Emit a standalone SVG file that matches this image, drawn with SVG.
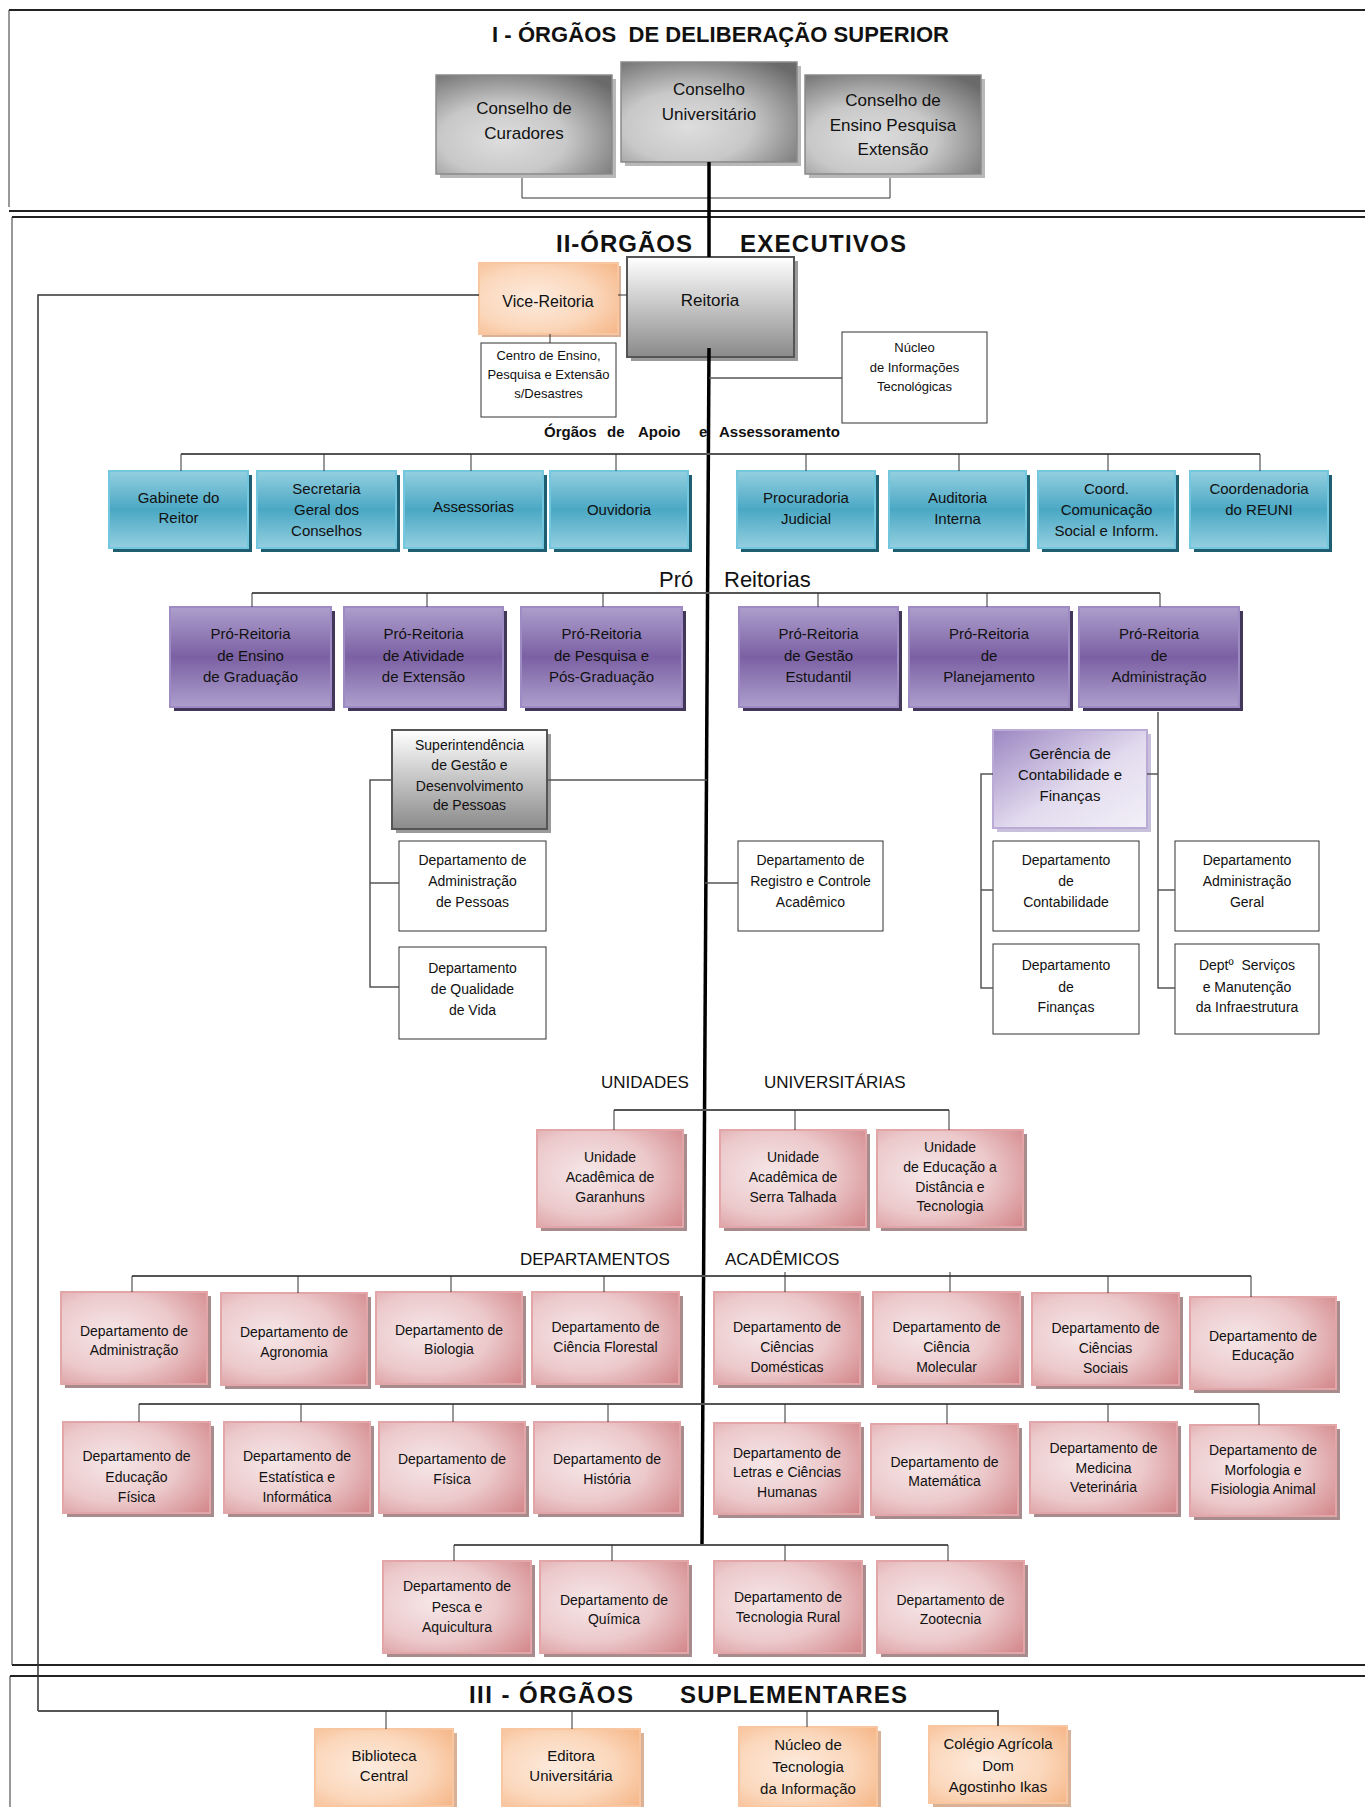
<svg xmlns="http://www.w3.org/2000/svg" width="1365" height="1807" viewBox="0 0 1365 1807">
<style>
text{font-family:"Liberation Sans",Arial,Helvetica,sans-serif;fill:#111;text-anchor:middle}
.t13{font-size:13px}.t14{font-size:14px}.t15{font-size:15px}.t16{font-size:16px}.t17{font-size:17px}
.h22{font-size:22px;font-weight:bold;text-anchor:start}
.h24{font-size:24px;font-weight:bold;text-anchor:start}
.h15b{font-size:15px;font-weight:bold;text-anchor:start}
.hr{text-anchor:start}
.frame{fill:none;stroke:#222;stroke-width:2}
.frameL{fill:none;stroke:#333;stroke-width:1}
.bus{fill:none;stroke:#555;stroke-width:2}
.ln{fill:none;stroke:#333;stroke-width:1}
.trunk{fill:none;stroke:#000;stroke-width:3.5}
.shGray{fill:#b8b8b8}.shBlue{fill:#1f5d71}.shPurp{fill:#433759}.shPink{fill:#a88b8d}.shOr{fill:#d9b196}.shRe{fill:#9a9a9a}.shLav{fill:#c9c0dc}
.bGray{fill:url(#gGray);stroke:#8a8a8a;stroke-width:1.5}
.bRe{fill:url(#gRe);stroke:#555;stroke-width:2}
.bBlue{fill:url(#gBlue);stroke:#72c6de;stroke-width:2}
.bPurp{fill:url(#gPurp);stroke:#9e8bc4;stroke-width:2}
.bPink{fill:url(#gPink);stroke:#e2a6a9;stroke-width:2}
.bOr{fill:url(#gOr);stroke:#f8c7a1;stroke-width:2}
.bLav{fill:url(#gLav);stroke:#b9abd6;stroke-width:2}
.bW{fill:#fff;stroke:#333;stroke-width:1}
</style>
<defs>
<radialGradient id="gGray" cx="0.38" cy="0.65" r="0.8">
<stop offset="0" stop-color="#dedede"/><stop offset="0.45" stop-color="#c8c8c8"/><stop offset="1" stop-color="#6a6a6a"/>
</radialGradient>
<linearGradient id="gRe" x1="0" y1="0" x2="0" y2="1">
<stop offset="0" stop-color="#ffffff"/><stop offset="1" stop-color="#8a8a8a"/>
</linearGradient>
<linearGradient id="gBlue" x1="0" y1="0" x2="0" y2="1">
<stop offset="0" stop-color="#94cfe0"/><stop offset="0.5" stop-color="#4aa8c4"/><stop offset="1" stop-color="#94cfe0"/>
</linearGradient>
<linearGradient id="gPurp" x1="0" y1="0" x2="0" y2="1">
<stop offset="0" stop-color="#ad9fcd"/><stop offset="0.5" stop-color="#7b60a3"/><stop offset="1" stop-color="#ad9fcd"/>
</linearGradient>
<radialGradient id="gPink" cx="0.35" cy="0.45" r="0.85">
<stop offset="0" stop-color="#f6e7e8"/><stop offset="0.5" stop-color="#ecc9cb"/><stop offset="1" stop-color="#d28589"/>
</radialGradient>
<radialGradient id="gOr" cx="0.4" cy="0.5" r="0.85">
<stop offset="0" stop-color="#fdebde"/><stop offset="0.5" stop-color="#fbd7bb"/><stop offset="1" stop-color="#f4ae7b"/>
</radialGradient>
<linearGradient id="gLav" x1="0" y1="0" x2="1" y2="1">
<stop offset="0" stop-color="#9c86c2"/><stop offset="0.55" stop-color="#e2dbee"/><stop offset="1" stop-color="#f3f0f8"/>
</linearGradient>
</defs>

<g id="frames">
<path class="frame" d="M9 10H1365M9 211H1365"/>
<path class="frameL" d="M9 10V207"/>
<path class="frame" d="M12 217H1365M12 1665H1365"/>
<path class="frameL" d="M12 217V1665"/>
<path class="frame" d="M10 1676H1365"/>
<path class="frameL" d="M10 1676V1807"/>
</g>

<g id="titles">
<text class="h22" x="492" y="42" textLength="457" xml:space="preserve">I - ÓRGÃOS  DE DELIBERAÇÃO SUPERIOR</text>
<text class="h24" x="556" y="252" textLength="136">II-ÓRGÃOS</text>
<text class="h24" x="740" y="252" textLength="166">EXECUTIVOS</text>
<text class="h15b" y="437"><tspan x="544">Órgãos</tspan><tspan x="607">de</tspan><tspan x="638">Apoio</tspan><tspan x="699">e</tspan><tspan x="719">Assessoramento</tspan></text>
<text class="hr" x="659" y="587" style="font-size:22px">Pró</text>
<text class="hr" x="724" y="587" style="font-size:22px">Reitorias</text>
<text class="hr t17" x="601" y="1088">UNIDADES</text>
<text class="hr t17" x="764" y="1088">UNIVERSITÁRIAS</text>
<text class="hr t17" x="520" y="1265">DEPARTAMENTOS</text>
<text class="hr t17" x="725" y="1265">ACADÊMICOS</text>
<text class="h24" x="469" y="1703" textLength="164" xml:space="preserve">III - ÓRGÃOS</text>
<text class="h24" x="680" y="1703" textLength="227">SUPLEMENTARES</text>
</g>

<!-- Section I -->
<g id="n-curadores"><rect class="shGray" x="440" y="79" width="176" height="99"/><rect class="bGray" x="436" y="75" width="176" height="99"/><text class="t17" x="524"><tspan x="524" y="114">Conselho de</tspan><tspan x="524" y="139">Curadores</tspan></text></g>
<g id="n-universitario"><rect class="shGray" x="625" y="66" width="176" height="100"/><rect class="bGray" x="621" y="62" width="176" height="100"/><text class="t17"><tspan x="709" y="95">Conselho</tspan><tspan x="709" y="120">Universitário</tspan></text></g>
<g id="n-cepe"><rect class="shGray" x="809" y="79" width="176" height="99"/><rect class="bGray" x="805" y="75" width="176" height="99"/><text class="t17"><tspan x="893" y="106">Conselho de</tspan><tspan x="893" y="131">Ensino Pesquisa</tspan><tspan x="893" y="155">Extensão</tspan></text></g>

<!-- Section II top -->
<g id="n-reitoria"><rect class="shRe" x="631" y="261" width="167" height="100"/><rect class="bRe" x="627" y="257" width="167" height="100"/><text class="t17" x="710" y="306">Reitoria</text></g>
<g id="n-vice"><rect class="shOr" x="482" y="266" width="139" height="71"/><rect class="bOr" x="479" y="263" width="139" height="71"/><text class="t16" x="548" y="307">Vice-Reitoria</text></g>
<g id="n-centro"><rect class="bW" x="481" y="343" width="135" height="74"/><text class="t13"><tspan x="548.5" y="360">Centro de Ensino,</tspan><tspan x="548.5" y="379">Pesquisa e Extensão</tspan><tspan x="548.5" y="398">s/Desastres</tspan></text></g>
<g id="n-nucleo-info"><rect class="bW" x="842" y="332" width="145" height="91"/><text class="t13"><tspan x="914.5" y="352">Núcleo</tspan><tspan x="914.5" y="372">de Informações</tspan><tspan x="914.5" y="391">Tecnológicas</tspan></text></g>

<!-- Blue row -->
<g id="n-gabinete"><rect class="shBlue" x="113" y="475" width="139" height="77"/><rect class="bBlue" x="109" y="471" width="139" height="77"/><text class="t15"><tspan x="178.5" y="503">Gabinete do</tspan><tspan x="178.5" y="523">Reitor</tspan></text></g>
<g id="n-secretaria"><rect class="shBlue" x="261" y="475" width="139" height="77"/><rect class="bBlue" x="257" y="471" width="139" height="77"/><text class="t15"><tspan x="326.5" y="494">Secretaria</tspan><tspan x="326.5" y="515">Geral dos</tspan><tspan x="326.5" y="536">Conselhos</tspan></text></g>
<g id="n-assessorias"><rect class="shBlue" x="408" y="475" width="139" height="77"/><rect class="bBlue" x="404" y="471" width="139" height="77"/><text class="t15" x="473.5" y="512">Assessorias</text></g>
<g id="n-ouvidoria"><rect class="shBlue" x="554" y="475" width="138" height="77"/><rect class="bBlue" x="550" y="471" width="138" height="77"/><text class="t15" x="619" y="515">Ouvidoria</text></g>
<g id="n-procuradoria"><rect class="shBlue" x="741" y="475" width="138" height="77"/><rect class="bBlue" x="737" y="471" width="138" height="77"/><text class="t15"><tspan x="806" y="503">Procuradoria</tspan><tspan x="806" y="524">Judicial</tspan></text></g>
<g id="n-auditoria"><rect class="shBlue" x="893" y="475" width="137" height="77"/><rect class="bBlue" x="889" y="471" width="137" height="77"/><text class="t15"><tspan x="957.5" y="503">Auditoria</tspan><tspan x="957.5" y="524">Interna</tspan></text></g>
<g id="n-coord-com"><rect class="shBlue" x="1042" y="475" width="137" height="77"/><rect class="bBlue" x="1038" y="471" width="137" height="77"/><text class="t15"><tspan x="1106.5" y="494">Coord.</tspan><tspan x="1106.5" y="515">Comunicação</tspan><tspan x="1106.5" y="536">Social e Inform.</tspan></text></g>
<g id="n-reuni"><rect class="shBlue" x="1194" y="475" width="138" height="77"/><rect class="bBlue" x="1190" y="471" width="138" height="77"/><text class="t15"><tspan x="1259" y="494">Coordenadoria</tspan><tspan x="1259" y="515">do REUNI</tspan></text></g>

<!-- Purple row -->
<g id="n-prg"><rect class="shPurp" x="174" y="611" width="161" height="100"/><rect class="bPurp" x="170" y="607" width="161" height="100"/><text class="t15"><tspan x="250.5" y="639">Pró-Reitoria</tspan><tspan x="250.5" y="661">de Ensino</tspan><tspan x="250.5" y="682">de Graduação</tspan></text></g>
<g id="n-prae"><rect class="shPurp" x="348" y="611" width="159" height="100"/><rect class="bPurp" x="344" y="607" width="159" height="100"/><text class="t15"><tspan x="423.5" y="639">Pró-Reitoria</tspan><tspan x="423.5" y="661">de Atividade</tspan><tspan x="423.5" y="682">de Extensão</tspan></text></g>
<g id="n-prppg"><rect class="shPurp" x="525" y="611" width="161" height="100"/><rect class="bPurp" x="521" y="607" width="161" height="100"/><text class="t15"><tspan x="601.5" y="639">Pró-Reitoria</tspan><tspan x="601.5" y="661">de Pesquisa e</tspan><tspan x="601.5" y="682">Pós-Graduação</tspan></text></g>
<g id="n-pregae"><rect class="shPurp" x="743" y="611" width="159" height="100"/><rect class="bPurp" x="739" y="607" width="159" height="100"/><text class="t15"><tspan x="818.5" y="639">Pró-Reitoria</tspan><tspan x="818.5" y="661">de Gestão</tspan><tspan x="818.5" y="682">Estudantil</tspan></text></g>
<g id="n-proplan"><rect class="shPurp" x="913" y="611" width="160" height="100"/><rect class="bPurp" x="909" y="607" width="160" height="100"/><text class="t15"><tspan x="989" y="639">Pró-Reitoria</tspan><tspan x="989" y="661">de</tspan><tspan x="989" y="682">Planejamento</tspan></text></g>
<g id="n-proad"><rect class="shPurp" x="1083" y="611" width="160" height="100"/><rect class="bPurp" x="1079" y="607" width="160" height="100"/><text class="t15"><tspan x="1159" y="639">Pró-Reitoria</tspan><tspan x="1159" y="661">de</tspan><tspan x="1159" y="682">Administração</tspan></text></g>

<!-- Sub units -->
<g id="n-superintendencia"><rect class="shRe" x="396" y="734" width="155" height="99"/><rect class="bRe" x="392" y="730" width="155" height="99"/><text class="t14"><tspan x="469.5" y="750">Superintendência</tspan><tspan x="469.5" y="770">de Gestão e</tspan><tspan x="469.5" y="791">Desenvolvimento</tspan><tspan x="469.5" y="810">de Pessoas</tspan></text></g>
<g id="n-gerencia"><rect class="shLav" x="997" y="734" width="154" height="98"/><rect class="bLav" x="993" y="730" width="154" height="98"/><text class="t15"><tspan x="1070" y="759">Gerência de</tspan><tspan x="1070" y="780">Contabilidade e</tspan><tspan x="1070" y="801">Finanças</tspan></text></g>
<g id="n-dap"><rect class="bW" x="399" y="841" width="147" height="90"/><text class="t14"><tspan x="472.5" y="865">Departamento de</tspan><tspan x="472.5" y="886">Administração</tspan><tspan x="472.5" y="907">de Pessoas</tspan></text></g>
<g id="n-dqv"><rect class="bW" x="399" y="947" width="147" height="92"/><text class="t14"><tspan x="472.5" y="973">Departamento</tspan><tspan x="472.5" y="994">de Qualidade</tspan><tspan x="472.5" y="1015">de Vida</tspan></text></g>
<g id="n-drca"><rect class="bW" x="738" y="841" width="145" height="90"/><text class="t14"><tspan x="810.5" y="865">Departamento de</tspan><tspan x="810.5" y="886">Registro e Controle</tspan><tspan x="810.5" y="907">Acadêmico</tspan></text></g>
<g id="n-dcont"><rect class="bW" x="993" y="841" width="146" height="90"/><text class="t14"><tspan x="1066" y="865">Departamento</tspan><tspan x="1066" y="886">de</tspan><tspan x="1066" y="907">Contabilidade</tspan></text></g>
<g id="n-dfin"><rect class="bW" x="993" y="944" width="146" height="90"/><text class="t14"><tspan x="1066" y="970">Departamento</tspan><tspan x="1066" y="992">de</tspan><tspan x="1066" y="1012">Finanças</tspan></text></g>
<g id="n-dag"><rect class="bW" x="1175" y="841" width="144" height="90"/><text class="t14"><tspan x="1247" y="865">Departamento</tspan><tspan x="1247" y="886">Administração</tspan><tspan x="1247" y="907">Geral</tspan></text></g>
<g id="n-dsm"><rect class="bW" x="1175" y="944" width="144" height="90"/><text class="t14" xml:space="preserve"><tspan x="1247" y="970">Deptº  Serviços</tspan><tspan x="1247" y="992">e Manutenção</tspan><tspan x="1247" y="1012">da Infraestrutura</tspan></text></g>

<!-- Unidades -->
<g id="n-uag"><rect class="shPink" x="541" y="1134" width="146" height="97"/><rect class="bPink" x="537" y="1130" width="146" height="97"/><text class="t14"><tspan x="610" y="1162">Unidade</tspan><tspan x="610" y="1182">Acadêmica de</tspan><tspan x="610" y="1202">Garanhuns</tspan></text></g>
<g id="n-uast"><rect class="shPink" x="724" y="1134" width="146" height="97"/><rect class="bPink" x="720" y="1130" width="146" height="97"/><text class="t14"><tspan x="793" y="1162">Unidade</tspan><tspan x="793" y="1182">Acadêmica de</tspan><tspan x="793" y="1202">Serra Talhada</tspan></text></g>
<g id="n-uaead"><rect class="shPink" x="881" y="1134" width="146" height="97"/><rect class="bPink" x="877" y="1130" width="146" height="97"/><text class="t14"><tspan x="950" y="1152">Unidade</tspan><tspan x="950" y="1172">de Educação a</tspan><tspan x="950" y="1192">Distância e</tspan><tspan x="950" y="1211">Tecnologia</tspan></text></g>

<!-- Departamentos row 1 -->
<g id="d-adm"><rect class="shPink" x="65" y="1296" width="146" height="92"/><rect class="bPink" x="61" y="1292" width="146" height="92"/><text class="t14"><tspan x="134" y="1336">Departamento de</tspan><tspan x="134" y="1355">Administração</tspan></text></g>
<g id="d-agro"><rect class="shPink" x="225" y="1297" width="146" height="92"/><rect class="bPink" x="221" y="1293" width="146" height="92"/><text class="t14"><tspan x="294" y="1337">Departamento de</tspan><tspan x="294" y="1357">Agronomia</tspan></text></g>
<g id="d-bio"><rect class="shPink" x="380" y="1296" width="146" height="92"/><rect class="bPink" x="376" y="1292" width="146" height="92"/><text class="t14"><tspan x="449" y="1335">Departamento de</tspan><tspan x="449" y="1354">Biologia</tspan></text></g>
<g id="d-flor"><rect class="shPink" x="536" y="1296" width="147" height="92"/><rect class="bPink" x="532" y="1292" width="147" height="92"/><text class="t14"><tspan x="605.5" y="1332">Departamento de</tspan><tspan x="605.5" y="1352">Ciência Florestal</tspan></text></g>
<g id="d-dom"><rect class="shPink" x="718" y="1296" width="146" height="92"/><rect class="bPink" x="714" y="1292" width="146" height="92"/><text class="t14"><tspan x="787" y="1332">Departamento de</tspan><tspan x="787" y="1352">Ciências</tspan><tspan x="787" y="1372">Domésticas</tspan></text></g>
<g id="d-mol"><rect class="shPink" x="877" y="1296" width="147" height="92"/><rect class="bPink" x="873" y="1292" width="147" height="92"/><text class="t14"><tspan x="946.5" y="1332">Departamento de</tspan><tspan x="946.5" y="1352">Ciência</tspan><tspan x="946.5" y="1372">Molecular</tspan></text></g>
<g id="d-soc"><rect class="shPink" x="1036" y="1297" width="147" height="92"/><rect class="bPink" x="1032" y="1293" width="147" height="92"/><text class="t14"><tspan x="1105.5" y="1333">Departamento de</tspan><tspan x="1105.5" y="1353">Ciências</tspan><tspan x="1105.5" y="1373">Sociais</tspan></text></g>
<g id="d-edu"><rect class="shPink" x="1194" y="1301" width="146" height="92"/><rect class="bPink" x="1190" y="1297" width="146" height="92"/><text class="t14"><tspan x="1263" y="1341">Departamento de</tspan><tspan x="1263" y="1360">Educação</tspan></text></g>

<!-- Departamentos row 2 -->
<g id="d-edf"><rect class="shPink" x="67" y="1426" width="147" height="91"/><rect class="bPink" x="63" y="1422" width="147" height="91"/><text class="t14"><tspan x="136.5" y="1461">Departamento de</tspan><tspan x="136.5" y="1482">Educação</tspan><tspan x="136.5" y="1502">Física</tspan></text></g>
<g id="d-est"><rect class="shPink" x="228" y="1426" width="146" height="91"/><rect class="bPink" x="224" y="1422" width="146" height="91"/><text class="t14"><tspan x="297" y="1461">Departamento de</tspan><tspan x="297" y="1482">Estatística e</tspan><tspan x="297" y="1502">Informática</tspan></text></g>
<g id="d-fis"><rect class="shPink" x="383" y="1426" width="146" height="91"/><rect class="bPink" x="379" y="1422" width="146" height="91"/><text class="t14"><tspan x="452" y="1464">Departamento de</tspan><tspan x="452" y="1484">Física</tspan></text></g>
<g id="d-his"><rect class="shPink" x="538" y="1426" width="146" height="91"/><rect class="bPink" x="534" y="1422" width="146" height="91"/><text class="t14"><tspan x="607" y="1464">Departamento de</tspan><tspan x="607" y="1484">História</tspan></text></g>
<g id="d-let"><rect class="shPink" x="718" y="1427" width="146" height="91"/><rect class="bPink" x="714" y="1423" width="146" height="91"/><text class="t14"><tspan x="787" y="1458">Departamento de</tspan><tspan x="787" y="1477">Letras e Ciências</tspan><tspan x="787" y="1497">Humanas</tspan></text></g>
<g id="d-mat"><rect class="shPink" x="875" y="1428" width="147" height="91"/><rect class="bPink" x="871" y="1424" width="147" height="91"/><text class="t14"><tspan x="944.5" y="1467">Departamento de</tspan><tspan x="944.5" y="1486">Matemática</tspan></text></g>
<g id="d-vet"><rect class="shPink" x="1034" y="1426" width="147" height="91"/><rect class="bPink" x="1030" y="1422" width="147" height="91"/><text class="t14"><tspan x="1103.5" y="1453">Departamento de</tspan><tspan x="1103.5" y="1473">Medicina</tspan><tspan x="1103.5" y="1492">Veterinária</tspan></text></g>
<g id="d-mor"><rect class="shPink" x="1194" y="1429" width="146" height="91"/><rect class="bPink" x="1190" y="1425" width="146" height="91"/><text class="t14"><tspan x="1263" y="1455">Departamento de</tspan><tspan x="1263" y="1475">Morfologia e</tspan><tspan x="1263" y="1494">Fisiologia Animal</tspan></text></g>

<!-- Departamentos row 3 -->
<g id="d-pes"><rect class="shPink" x="387" y="1565" width="148" height="92"/><rect class="bPink" x="383" y="1561" width="148" height="92"/><text class="t14"><tspan x="457" y="1591">Departamento de</tspan><tspan x="457" y="1612">Pesca e</tspan><tspan x="457" y="1632">Aquicultura</tspan></text></g>
<g id="d-qui"><rect class="shPink" x="544" y="1565" width="148" height="92"/><rect class="bPink" x="540" y="1561" width="148" height="92"/><text class="t14"><tspan x="614" y="1605">Departamento de</tspan><tspan x="614" y="1624">Química</tspan></text></g>
<g id="d-tec"><rect class="shPink" x="718" y="1565" width="148" height="92"/><rect class="bPink" x="714" y="1561" width="148" height="92"/><text class="t14"><tspan x="788" y="1602">Departamento de</tspan><tspan x="788" y="1622">Tecnologia Rural</tspan></text></g>
<g id="d-zoo"><rect class="shPink" x="881" y="1565" width="147" height="92"/><rect class="bPink" x="877" y="1561" width="147" height="92"/><text class="t14"><tspan x="950.5" y="1605">Departamento de</tspan><tspan x="950.5" y="1624">Zootecnia</tspan></text></g>

<!-- Section III -->
<g id="n-biblioteca"><rect class="shOr" x="319" y="1733" width="138" height="78"/><rect class="bOr" x="315" y="1729" width="138" height="77"/><text class="t15"><tspan x="384" y="1761">Biblioteca</tspan><tspan x="384" y="1781">Central</tspan></text></g>
<g id="n-editora"><rect class="shOr" x="506" y="1733" width="138" height="78"/><rect class="bOr" x="502" y="1729" width="138" height="77"/><text class="t15"><tspan x="571" y="1761">Editora</tspan><tspan x="571" y="1781">Universitária</tspan></text></g>
<g id="n-nti"><rect class="shOr" x="743" y="1731" width="138" height="80"/><rect class="bOr" x="739" y="1727" width="138" height="80"/><text class="t15"><tspan x="808" y="1750">Núcleo de</tspan><tspan x="808" y="1772">Tecnologia</tspan><tspan x="808" y="1794">da Informação</tspan></text></g>
<g id="n-colegio"><rect class="shOr" x="933" y="1730" width="138" height="78"/><rect class="bOr" x="929" y="1726" width="138" height="77"/><text class="t15"><tspan x="998" y="1749">Colégio Agrícola</tspan><tspan x="998" y="1771">Dom</tspan><tspan x="998" y="1792">Agostinho Ikas</tspan></text></g>

<g id="connectors">
<path class="ln" d="M522 178V198H890V178"/>
<path class="trunk" d="M709 162V257"/>
<path class="trunk" d="M709 348L702 1545"/>
<path class="ln" d="M618 295H627"/>
<path class="ln" style="stroke-width:1.5" d="M479 295H38V1711"/>
<path class="bus" d="M38 1711H998V1726"/>
<path class="ln" d="M386 1711V1729M572 1711V1729M807 1711V1727"/>
<path class="ln" d="M550 334V343"/>
<path class="ln" style="stroke:#555;stroke-width:1.5" d="M709 378H842"/>
<path class="bus" d="M181 454H1260"/>
<path class="ln" d="M181 454V471M324 454V471M471 454V471M616 454V471M806 454V471M959 454V471M1108 454V471M1260 454V471"/>
<path class="bus" d="M252 593H1160"/>
<path class="ln" d="M252 593V607M427 593V607M603 593V607M818 593V607M987 593V607M1160 593V607"/>
<path class="ln" style="stroke:#555;stroke-width:1.5" d="M547 780H707"/>
<path class="ln" style="stroke:#555;stroke-width:1.5" d="M392 780H370V987H399M370 883H399"/>
<path class="ln" style="stroke:#555;stroke-width:1.5" d="M705 883H738"/>
<path class="ln" style="stroke:#555;stroke-width:1.5" d="M1158 712V988H1175M1147 774H1158M1158 890H1175"/>
<path class="ln" style="stroke:#555;stroke-width:1.5" d="M993 774H981V988H993M981 890H993"/>
<path class="bus" d="M614 1110H949"/>
<path class="ln" d="M614 1110V1130M795 1110V1130M949 1110V1130"/>
<path class="bus" d="M132 1276H1251"/>
<path class="ln" d="M132 1276V1292M298 1276V1293M451 1276V1292M604 1276V1292M785 1272V1292M950 1272V1292M1108 1276V1293M1251 1276V1297"/>
<path class="bus" d="M139 1404H1259"/>
<path class="ln" d="M139 1404V1422M301 1404V1422M453 1404V1422M608 1404V1422M785 1404V1423M947 1404V1424M1108 1404V1422M1259 1404V1425"/>
<path class="bus" d="M454 1545H948"/>
<path class="ln" d="M454 1545V1561M612 1545V1561M785 1545V1561M948 1545V1561"/>
</g>
</svg>
